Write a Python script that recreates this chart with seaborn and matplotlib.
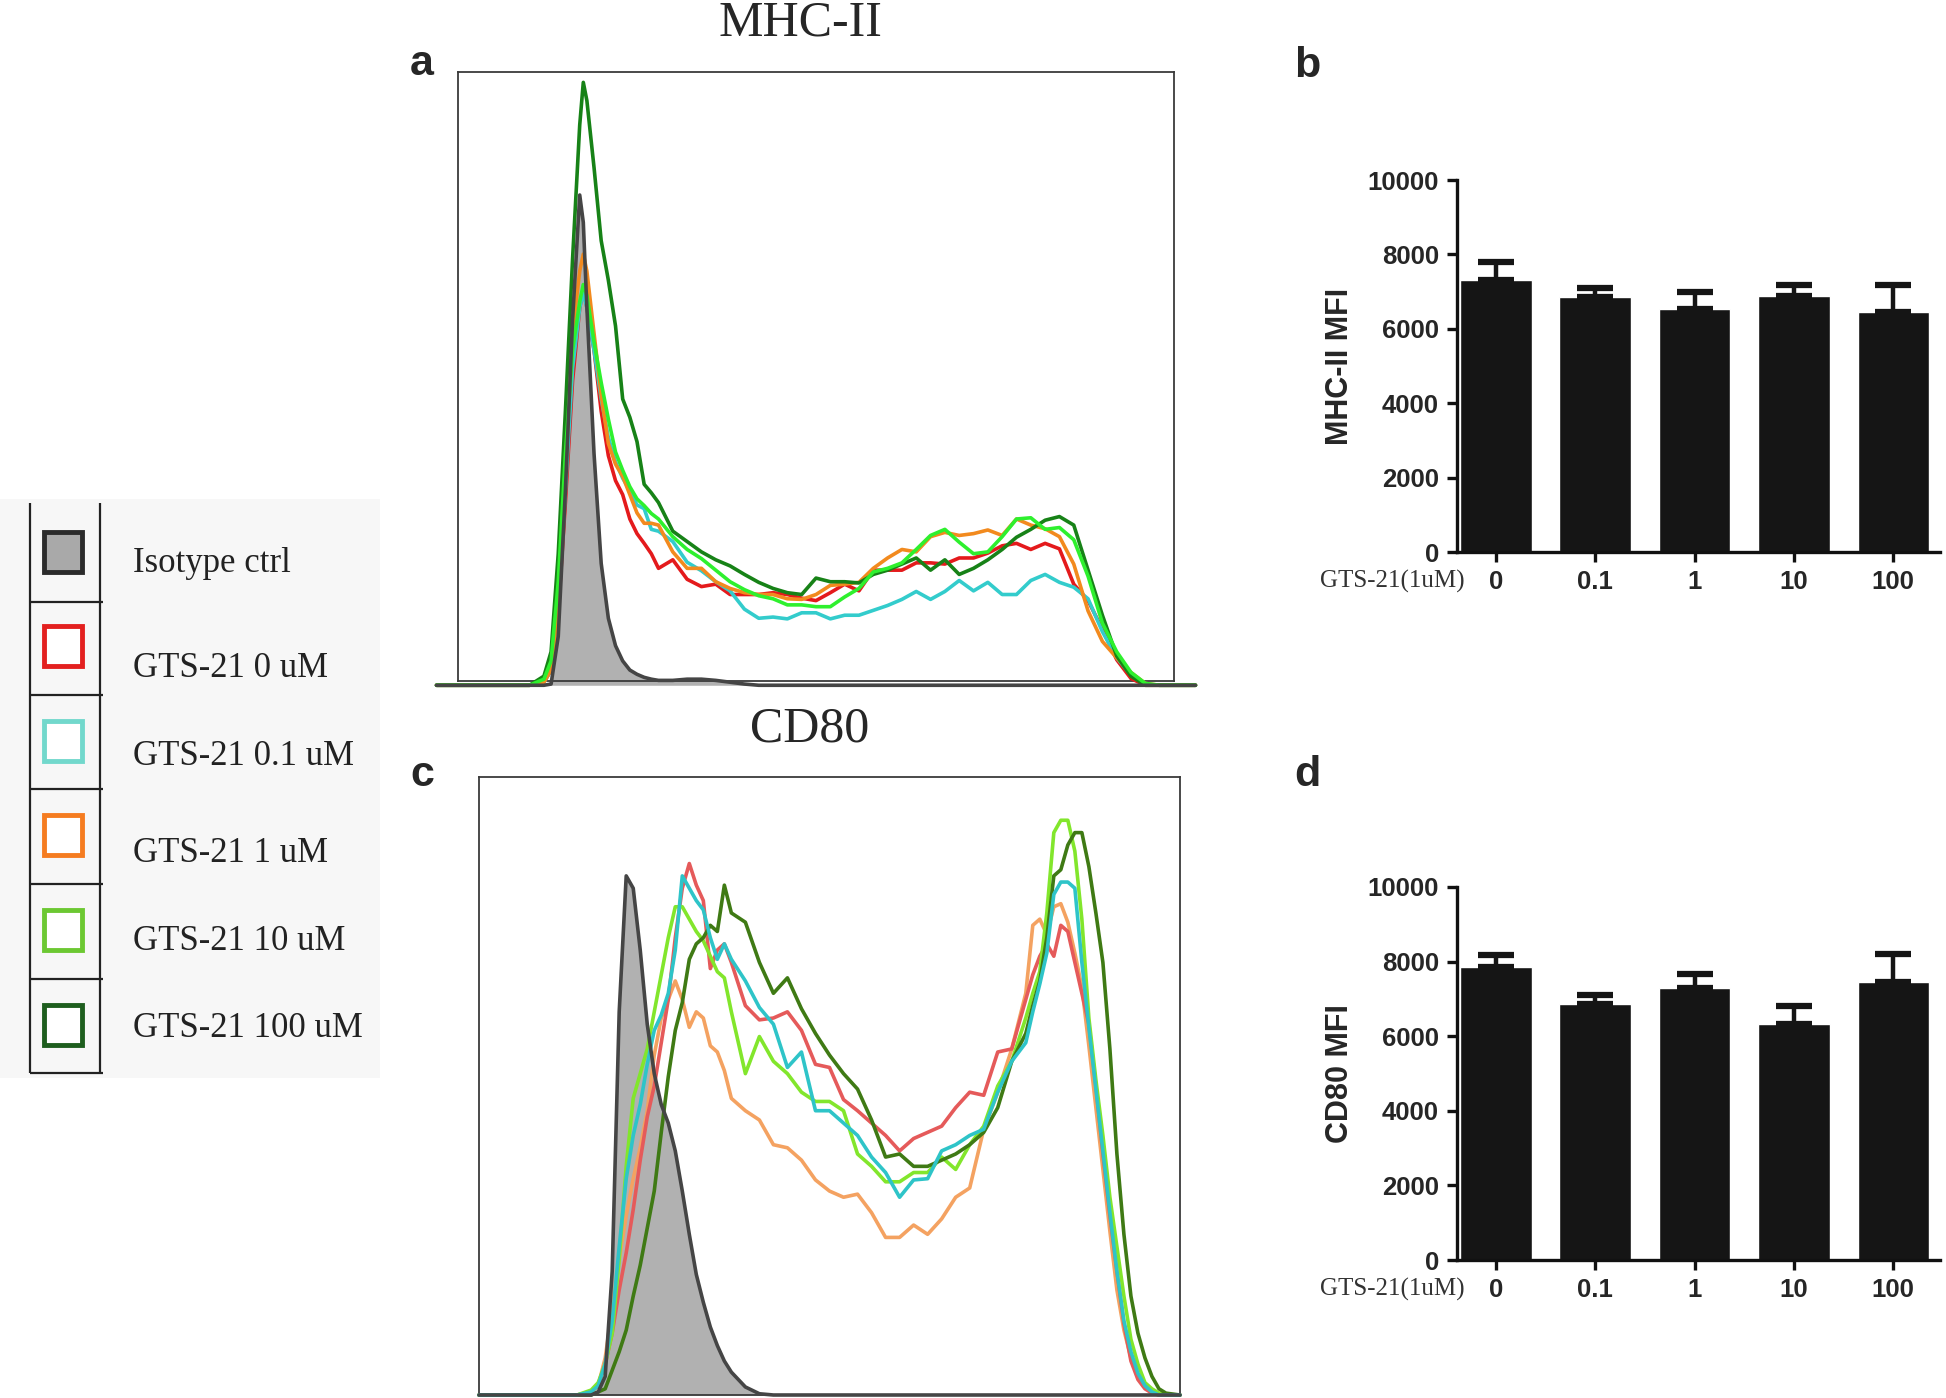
import numpy as np
import pandas as pd
import matplotlib
matplotlib.use("Agg")
import matplotlib.pyplot as plt
from matplotlib.patches import Rectangle
import seaborn as sns

# ---------------- data ----------------
GROUPS = ["Isotype ctrl", "GTS-21 0 uM", "GTS-21 0.1 uM", "GTS-21 1 uM",
          "GTS-21 10 uM", "GTS-21 100 uM"]

# panel a : MHC-II histogram, x and y in % of the plot frame
MHC_X = [-3, 10, 12, 13, 14, 15, 16, 17, 17.5, 18,
         19, 20, 21, 22, 23, 24, 25, 26, 27, 28,
         30, 32, 34, 36, 38, 40, 42, 44, 46, 48,
         50, 52, 54, 56, 58, 60, 62, 64, 66, 68,
         70, 72, 74, 76, 78, 80, 82, 84, 86, 88,
         90, 92, 94, 96, 98, 100, 103]
MHC_ISO = [0, 0, 0, 0.2, 8, 32, 60, 80.5, 76, 62,
           38, 20, 11, 6.5, 4, 2.5, 1.8, 1.3, 1.0, 0.8,
           0.8, 1.0, 1.0, 0.8, 0.5, 0.2, 0, 0, 0, 0,
           0, 0, 0, 0, 0, 0, 0, 0, 0, 0,
           0, 0, 0, 0, 0, 0, 0, 0, 0, 0,
           0, 0, 0, 0, 0, 0, 0]
MHC_0 = [0, 0, 0.5, 2.5, 12, 30, 50, 62, 65, 62,
         55, 45, 37.7, 33.6, 31.3, 27.3, 24.9, 23.3, 21.6, 19.2,
         20.6, 17.4, 16.2, 16.6, 14.9, 14.9, 14.9, 15.2, 14.9, 14.3,
         13.9, 15.2, 16.6, 15.5, 18.9, 18.9, 18.9, 20.1, 20.1, 19.9,
         20.9, 20.9, 21.7, 22.9, 23.3, 22.3, 23.3, 22.4, 16.6, 13.9,
         9.2, 4.2, 1.1, 0, 0, 0, 0]
MHC_01 = [0, 0, 0.5, 2.5, 12, 32, 52, 62, 64.5, 62,
          55, 47, 40.7, 36.7, 34, 32, 29.6, 29, 25.6, 25.3,
          23.6, 20.2, 18.8, 17.0, 15.5, 12.5, 11.0, 11.2, 10.9, 11.9,
          11.9, 10.9, 11.5, 11.5, 12.3, 13.1, 14.1, 15.4, 14.1, 15.4,
          17.2, 15.5, 16.9, 14.9, 14.9, 17.2, 18.2, 16.9, 16.1, 14.2,
          8.8, 4.5, 1.7, 0.1, 0, 0, 0]
MHC_1 = [0, 0, 0.5, 2.5, 13, 35, 58, 68, 70.8, 68,
         57.8, 47.7, 39.7, 36.3, 34.3, 31.3, 28.3, 26.6, 26.6, 26.3,
         21.9, 19.2, 19.2, 17.0, 15.9, 15.2, 14.9, 14.9, 14.2, 14.1,
         14.9, 16.4, 16.6, 16.9, 19.2, 20.9, 22.3, 21.9, 24.4, 25.1,
         24.6, 24.9, 25.5, 24.6, 27.3, 26.3, 25.7, 24.4, 19.9, 12.2,
         7.2, 4.5, 2.1, 0.3, 0, 0, 0]
MHC_10 = [0, 0, 1.0, 4, 17, 38, 55, 63, 65.8, 64,
          56.4, 49.7, 43.7, 38.3, 35.3, 32.6, 30.6, 29.5, 28.2, 27.3,
          24.4, 22.3, 20.8, 18.9, 17.0, 15.7, 14.7, 14.2, 13.2, 13.2,
          12.9, 12.9, 14.5, 15.9, 18.6, 19.2, 20.1, 22.3, 24.6, 25.6,
          23.5, 21.6, 21.9, 24.4, 27.3, 27.5, 25.6, 25.9, 23.9, 17.9,
          10.2, 5.5, 2.1, 0.3, 0, 0, 0]
MHC_100 = [0, 0, 1.5, 5.5, 21.6, 45, 70, 92, 99, 96,
           85, 73, 66.5, 59, 47, 44, 40, 33, 31.6, 30,
           25.3, 23.6, 21.9, 20.6, 19.6, 18.2, 16.9, 15.9, 15.2, 14.9,
           17.6, 17.0, 17.0, 16.8, 18.2, 18.9, 19.9, 20.9, 18.9, 20.6,
           18.2, 19.2, 20.6, 22.3, 24.3, 25.6, 27.1, 27.7, 26.3, 18.9,
           11.5, 4.8, 1.5, 0, 0, 0, 0]

# panel c : CD80 histogram
CD80_X = [0, 14, 16, 17, 18, 19, 20, 21, 22, 23,
          24, 25, 26, 27, 28, 29, 30, 31, 32, 33,
          34, 35, 36, 38, 40, 42, 44, 46, 48, 50,
          52, 54, 56, 58, 60, 62, 64, 66, 68, 70,
          72, 74, 76, 78, 79, 80, 81, 82, 83, 84,
          85, 86, 87, 88, 89, 90, 91, 92, 93, 94,
          95, 96, 97, 98, 100]
CD80_ISO = [0, 0, 0, 0.5, 3, 20, 62, 84, 82, 72,
            60, 52, 47, 44, 39.5, 33, 26, 19.5, 15, 11,
            8, 5.5, 3.7, 1.3, 0.2, 0, 0, 0, 0, 0,
            0, 0, 0, 0, 0, 0, 0, 0, 0, 0,
            0, 0, 0, 0, 0, 0, 0, 0, 0, 0,
            0, 0, 0, 0, 0, 0, 0, 0, 0, 0,
            0, 0, 0, 0, 0]
CD80_0 = [0, 0, 0.5, 1.5, 5, 10, 17, 23, 30, 38,
          45, 50, 57, 64, 74, 82, 86, 82.5, 80, 69,
          72, 73, 70, 63, 60.7, 61, 62, 59, 53.5, 53,
          47.8, 46, 44, 42, 39.5, 41.5, 42.5, 43.5, 46.5, 49,
          48.5, 55.5, 56, 64, 68, 71, 73, 71, 76, 75,
          70, 65, 60, 50, 39, 29, 20, 11.5, 5.5, 2.5,
          1, 0.3, 0, 0, 0]
CD80_01 = [0, 0, 0.5, 1.5, 5, 12, 24, 35, 42, 47,
           53.5, 59, 61.5, 65, 72, 84, 82, 80, 78.5, 74,
           70.5, 73, 70.5, 67, 62.7, 60, 53, 55.5, 46, 46,
           44, 42, 38.5, 36, 32, 34.8, 35, 39.5, 40.5, 42,
           43, 49, 54, 57, 62, 66.5, 71.5, 81, 83, 83,
           82, 70, 59.5, 49.5, 39.5, 29.5, 20, 12, 7, 3.5,
           1.5, 0.5, 0, 0, 0]
CD80_1 = [0, 0, 0.5, 1.5, 6, 14, 22, 29, 35, 40,
          46, 55, 61, 64, 67, 64, 59.5, 62, 61, 56.5,
          55.5, 52.5, 48, 46, 44.5, 40.5, 40, 38, 34.8, 33,
          32, 32.5, 29.5, 25.5, 25.5, 27.5, 26, 28.5, 32, 33.5,
          43, 49, 56, 65, 76, 77, 74.5, 79, 79.5, 76.5,
          71.5, 66, 56.5, 46.5, 36.5, 26.5, 17, 10.5, 6, 3,
          1.2, 0.4, 0, 0, 0]
CD80_10 = [0, 0, 0.8, 2, 5, 10, 22, 37, 48, 52,
           56, 62, 68, 74, 79, 79, 77, 75, 73.5, 71,
           68.5, 67.5, 62, 52, 58, 54, 52, 49, 47.5, 47.5,
           46, 39, 37, 34.5, 34.5, 36, 36, 38.5, 36.5, 40.5,
           43.5, 50, 54, 61, 65, 68.5, 78, 91, 93, 93,
           88, 77, 61, 51, 42, 32, 24, 16, 9, 5,
           2, 1, 0.3, 0, 0]
CD80_100 = [0, 0, 0, 0.5, 1, 4, 7, 10.5, 16, 21,
            27, 33, 42.5, 51.5, 59, 63.5, 70.5, 73, 74, 76,
            75, 82.5, 78, 76.5, 70, 65, 67.5, 62.5, 58.5, 55,
            52, 49.5, 44.5, 38.5, 39, 37, 37, 38, 39, 40.5,
            42.5, 46.5, 54, 58.5, 63, 67, 74, 84, 85, 89,
            91, 91, 85.5, 78, 70, 56, 39, 26, 16, 10,
            6, 3, 1, 0.3, 0]

# panels b and d : MFI bar charts
CONC = ["0", "0.1", "1", "10", "100"]
MHC_MFI = [7300, 6850, 6530, 6870, 6450]
MHC_SEM = [500, 260, 460, 320, 740]
CD80_MFI = [7860, 6850, 7290, 6320, 7450]
CD80_SEM = [320, 260, 370, 490, 750]

# ---------------- style ----------------
sns.set_style("ticks")
plt.rcParams["font.family"] = ["Liberation Sans", "DejaVu Sans"]
SERIF = ["Liberation Serif", "DejaVu Serif"]

W, H = 1946, 1398
fig = plt.figure(figsize=(W / 100, H / 100), dpi=100)


def box(l, t, r, b):
    # pixel box -> figure fraction
    return [l / W, 1 - b / H, (r - l) / W, (b - t) / H]


def draw_hist(ax, x, iso, curves, palette, order, ylim):
    df = pd.DataFrame({"x": x, **curves}).melt(id_vars="x", var_name="group",
                                                 value_name="count")
    ax.fill_between(x, iso, color="#b1b1b1", lw=0, zorder=1, clip_on=False)
    sns.lineplot(data=df, x="x", y="count", hue="group", hue_order=order,
                 palette=palette, estimator=None, lw=2.6, legend=False,
                 ax=ax, zorder=3)
    sns.lineplot(x=x, y=iso, color="#454545", lw=2.6, estimator=None,
                 ax=ax, zorder=4)
    for ln in ax.lines:
        ln.set_clip_on(False)
    ax.set_xlim(0, 100)
    ax.set_ylim(*ylim)
    ax.set_xticks([])
    ax.set_yticks([])
    ax.set_xlabel("")
    ax.set_ylabel("")
    for s in ax.spines.values():
        s.set_visible(True)
        s.set_color("#3a3a3a")
        s.set_linewidth(1.3)


def draw_bars(ax, means, errs, ylabel):
    df = pd.DataFrame({"conc": CONC, "mfi": means})
    sns.barplot(data=df, x="conc", y="mfi", order=CONC, color="#151515",
                saturation=1, width=0.72, errorbar=None, ax=ax)
    ax.errorbar(np.arange(len(CONC)), means, yerr=[np.zeros(len(errs)), errs],
                fmt="none", ecolor="#151515", elinewidth=3.2, capsize=13,
                capthick=4.5, zorder=3)
    ax.set_xlim(-0.39, 4.47)
    ax.set_ylim(0, 10000)
    ax.set_yticks(range(0, 10001, 2000))
    ax.set_xlabel("")
    ax.set_ylabel(ylabel, fontsize=22, fontweight="bold")
    ax.yaxis.set_label_coords(-0.211, 0.5)
    sns.despine(ax=ax)
    for s in ["left", "bottom"]:
        ax.spines[s].set_linewidth(2.4)
        ax.spines[s].set_color("#111111")
    ax.tick_params(width=2.4, length=7, labelsize=18.5, pad=6, color="#111111")
    for lab in ax.get_xticklabels() + ax.get_yticklabels():
        lab.set_fontweight("bold")
    ax.text(0.015, -0.078, "GTS-21(1uM)", transform=ax.transAxes, ha="right",
            va="center", fontsize=18, family=SERIF, color="#333333")


# ---------------- panel a ----------------
ax_a = fig.add_axes(box(458, 72, 1174, 681))
pal_a = {"GTS-21 0 uM": "#e41a1c", "GTS-21 0.1 uM": "#33cccc",
         "GTS-21 1 uM": "#f28a1e", "GTS-21 10 uM": "#2ef02e",
         "GTS-21 100 uM": "#178217"}
draw_hist(ax_a, MHC_X, MHC_ISO,
          {"GTS-21 0 uM": MHC_0, "GTS-21 0.1 uM": MHC_01, "GTS-21 1 uM": MHC_1,
           "GTS-21 10 uM": MHC_10, "GTS-21 100 uM": MHC_100},
          pal_a, ["GTS-21 0 uM", "GTS-21 0.1 uM", "GTS-21 1 uM",
                  "GTS-21 100 uM", "GTS-21 10 uM"], (0.7, 100.7))

# ---------------- panel c ----------------
ax_c = fig.add_axes(box(479, 777, 1180, 1395))
pal_c = {"GTS-21 0 uM": "#e55a5a", "GTS-21 0.1 uM": "#2ec4c8",
         "GTS-21 1 uM": "#f4a261", "GTS-21 10 uM": "#82e62c",
         "GTS-21 100 uM": "#3f7a14"}
draw_hist(ax_c, CD80_X, CD80_ISO,
          {"GTS-21 0 uM": CD80_0, "GTS-21 0.1 uM": CD80_01, "GTS-21 1 uM": CD80_1,
           "GTS-21 10 uM": CD80_10, "GTS-21 100 uM": CD80_100},
          pal_c, ["GTS-21 1 uM", "GTS-21 0 uM", "GTS-21 10 uM",
                  "GTS-21 100 uM", "GTS-21 0.1 uM"], (0, 100))

# ---------------- panels b, d ----------------
ax_b = fig.add_axes(box(1457, 180, 1940, 552))
draw_bars(ax_b, MHC_MFI, MHC_SEM, "MHC-II MFI")
ax_d = fig.add_axes(box(1457, 887, 1940, 1260))
draw_bars(ax_d, CD80_MFI, CD80_SEM, "CD80 MFI")

# ---------------- titles and panel letters ----------------
fig.text(800 / W, 1 - 35 / H, "MHC-II", ha="center", va="baseline",
         fontsize=36, family=SERIF)
fig.text(810 / W, 1 - 741 / H, "CD80", ha="center", va="baseline",
         fontsize=36, family=SERIF)
for letter, px, py in [("a", 422, 75), ("b", 1307, 77), ("c", 422, 786), ("d", 1307, 786)]:
    fig.text(px / W, 1 - py / H, letter, ha="center", va="baseline",
             fontsize=31, fontweight="bold")

# ---------------- legend table ----------------
ax_l = fig.add_axes(box(0, 499, 380, 1078))
ax_l.set_xlim(0, 380)
ax_l.set_ylim(1078, 499)
ax_l.set_facecolor("#f7f7f7")
ax_l.set_xticks([])
ax_l.set_yticks([])
for s in ax_l.spines.values():
    s.set_visible(False)

row_edges = [503, 602, 695, 789, 884, 979, 1073]
sq_centres = [552, 646, 741, 835, 930, 1025]
baselines = [572, 677, 765, 862, 950, 1037]
sq_edge = ["#2b2b2b", "#e3201f", "#72d8cc", "#f57c20", "#6cc832", "#1e5e1e"]
sq_face = ["#a9a9a9", "white", "white", "white", "white", "white"]

ax_l.vlines([30, 100], row_edges[0], row_edges[-1], color="#222222", lw=1.6)
ax_l.hlines(row_edges[1:], 30, 103, color="#222222", lw=1.6)
for lab, yc, yb, ec, fc in zip(GROUPS, sq_centres, baselines, sq_edge, sq_face):
    ax_l.add_patch(Rectangle((63 - 19, yc - 20), 38, 40, facecolor=fc,
                             edgecolor=ec, lw=3.5))
    ax_l.text(133, yb, lab, ha="left", va="baseline", fontsize=25,
              family=SERIF, color="#222222")

fig.savefig("out.png", dpi=100)
